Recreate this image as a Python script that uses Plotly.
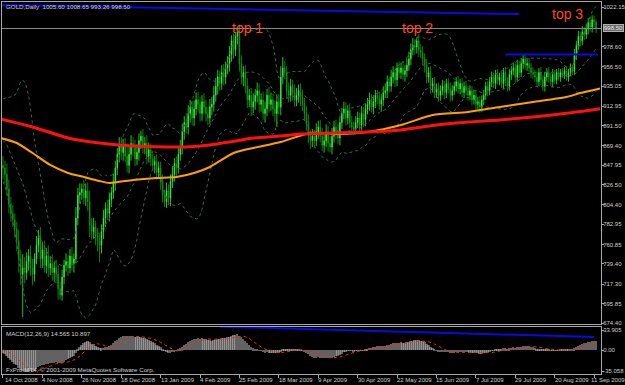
import pandas as pd
import plotly.graph_objects as go

# ---------------- data ----------------
date_labels = ["14 Oct 2008", "4 Nov 2008", "26 Nov 2008", "18 Dec 2008", "13 Jan 2009",
               "4 Feb 2009", "25 Feb 2009", "18 Mar 2009", "9 Apr 2009", "30 Apr 2009",
               "22 May 2009", "15 Jun 2009", "7 Jul 2009", "29 Jul 2009", "20 Aug 2009",
               "11 Sep 2009"]
date_label_bars = [0, 20, 40, 60, 80, 100, 120, 140, 160, 180, 200, 220, 240, 260, 280, 300]

price_ticks = [1022.15, 978.60, 956.50, 935.05, 912.95, 891.50, 869.40, 847.95, 826.50,
               804.40, 782.95, 760.85, 739.40, 717.30, 695.85, 674.40]
macd_ticks = [33.905, 0.0, -35.058]
macd_tick_text = ["33.905", "0.00", "-35.058"]

first_open = 848.0
closes = [
    845, 838, 822, 805, 795, 788, 778, 765, 745, 728,
    735, 730, 742, 748, 735, 728, 745, 760, 768, 745,
    755, 738, 748, 735, 740, 730, 735, 728, 712, 705,
    725, 738, 742, 735, 748, 740, 745, 790, 815, 818,
    822, 812, 820, 808, 782, 775, 780, 770, 765, 760,
    775, 790, 800, 795, 810, 818, 830, 845, 860, 870,
    862, 870, 858, 848, 860, 872, 868, 855, 862, 875,
    880, 868, 872, 858, 865, 855, 848, 852, 840, 845,
    830, 815, 808, 820, 812, 830, 838, 850, 845, 860,
    868, 885, 895, 890, 905, 912, 900, 910, 920, 915,
    905, 918, 912, 905, 900, 912, 915, 925, 935, 945,
    938, 950, 945, 955, 960, 970, 985, 975, 990, 995,
    960, 945, 950, 935, 920, 925, 912, 918, 925, 930,
    915, 920, 905, 910, 925, 915, 920, 910, 905, 918,
    912, 945, 955, 950, 930, 925, 935, 928, 920, 925,
    930, 922, 915, 905, 895, 880, 875, 880, 875, 885,
    890, 880, 870, 875, 885, 872, 868, 880, 890, 885,
    878, 895, 905, 910, 900, 908, 895, 890, 888, 895,
    900, 892, 905, 898, 910, 915, 920, 912, 918, 925,
    922, 915, 920, 928, 930, 940, 935, 945, 950, 942,
    955, 950, 955, 948, 952, 958, 965, 975, 980, 978,
    985, 975, 972, 965, 958, 945, 950, 935, 938, 928,
    932, 925, 930, 935, 928, 938, 932, 925, 930, 935,
    940, 932, 938, 928, 935, 930, 925, 930, 920, 925,
    915, 918, 912, 920, 925, 935, 930, 940, 945, 938,
    948, 942, 945, 938, 950, 940, 935, 948, 952, 955,
    945, 958, 950, 960, 965, 958, 960, 955, 950, 948,
    945, 940, 950, 942, 935, 945, 950, 945, 940, 948,
    942, 950, 945, 950, 948, 952, 945, 950, 955, 952,
    970, 980, 990, 985, 995, 992, 998, 1005, 1000, 1008,
    1005.6, 998.5]
up_wick = [
    10, 8, 12, 10, 8, 9, 7, 8, 12, 10,
    15, 12, 10, 8, 12, 10, 6, 10, 9, 12,
    8, 10, 9, 12, 8, 10, 7, 9, 10, 8,
    8, 6, 9, 7, 8, 10, 6, 12, 8, 10,
    6, 10, 8, 9, 12, 8, 10, 7, 9, 8,
    8, 9, 7, 10, 8, 6, 9, 8, 7, 9,
    9, 7, 8, 10, 8, 9, 7, 8, 9, 8,
    6, 8, 7, 9, 8, 7, 9, 6, 8, 7,
    7, 8, 6, 9, 7, 8, 9, 6, 8, 7,
    8, 9, 7, 10, 9, 8, 7, 9, 8, 9,
    8, 7, 9, 8, 7, 9, 8, 10, 9, 8,
    7, 8, 9, 7, 8, 9, 6, 8, 4, 1,
    8, 9, 7, 8, 9, 7, 8, 9, 7, 9,
    8, 7, 9, 8, 7, 9, 8, 7, 9, 8,
    8, 12, 12, 8, 7, 9, 8, 7, 9, 8,
    7, 8, 9, 7, 8, 9, 7, 8, 7, 9,
    7, 8, 9, 7, 8, 6, 8, 9, 7, 8,
    8, 7, 6, 8, 7, 6, 8, 7, 6, 7,
    7, 6, 8, 7, 6, 7, 8, 6, 7, 6,
    6, 7, 6, 7, 8, 7, 6, 8, 7, 6,
    6, 7, 6, 7, 6, 7, 8, 7, 8, 7,
    4, 7, 6, 7, 6, 7, 6, 7, 6, 7,
    6, 7, 6, 7, 6, 5, 6, 7, 6, 5,
    5, 6, 5, 6, 5, 6, 5, 6, 5, 6,
    6, 5, 6, 5, 6, 5, 6, 5, 6, 5,
    5, 6, 5, 6, 5, 6, 5, 6, 5, 6,
    5, 6, 5, 6, 5, 6, 5, 6, 5, 6,
    5, 6, 5, 6, 5, 6, 5, 6, 5, 6,
    5, 4, 5, 4, 5, 4, 5, 4, 5, 4,
    6, 5, 6, 5, 6, 5, 6, 5, 6, 5,
    5, 3.05]
down_wick = [
    12, 10, 8, 10, 9, 8, 10, 12, 15, 12,
    47, 12, 8, 10, 9, 12, 8, 6, 8, 10,
    10, 8, 9, 10, 8, 9, 10, 8, 12, 5,
    6, 8, 7, 9, 6, 8, 10, 5, 8, 9,
    8, 7, 9, 10, 13, 9, 8, 10, 12, 19,
    9, 8, 10, 7, 9, 8, 7, 10, 8, 9,
    8, 9, 7, 8, 9, 7, 10, 8, 7, 9,
    9, 7, 8, 9, 7, 8, 6, 9, 8, 7,
    9, 8, 6, 7, 8, 9, 7, 8, 9, 6,
    7, 8, 9, 7, 8, 10, 8, 9, 7, 8,
    9, 8, 7, 9, 8, 7, 9, 8, 7, 9,
    8, 7, 9, 8, 7, 9, 8, 10, 7, 9,
    9, 8, 10, 8, 9, 8, 10, 7, 9, 8,
    9, 8, 7, 10, 8, 9, 7, 8, 9, 15,
    8, 9, 8, 7, 9, 8, 7, 9, 8, 7,
    8, 9, 7, 8, 9, 8, 9, 7, 8, 6,
    8, 7, 6, 8, 7, 9, 6, 8, 7, 8,
    7, 8, 7, 6, 8, 7, 6, 8, 7, 6,
    6, 7, 6, 8, 7, 6, 7, 6, 8, 7,
    7, 6, 8, 7, 6, 8, 7, 6, 7, 8,
    7, 6, 7, 6, 8, 7, 6, 7, 6, 8,
    7, 8, 6, 7, 8, 7, 6, 8, 7, 6,
    6, 7, 6, 5, 7, 6, 5, 7, 6, 5,
    6, 5, 6, 5, 6, 5, 6, 5, 6, 5,
    6, 5, 6, 5, 6, 5, 6, 5, 6, 5,
    6, 5, 6, 5, 6, 5, 6, 5, 6, 5,
    6, 5, 6, 5, 6, 5, 6, 5, 6, 5,
    5, 6, 5, 6, 5, 6, 5, 6, 5, 6,
    4, 5, 4, 5, 4, 5, 4, 5, 4, 5,
    5, 6, 5, 6, 5, 6, 5, 6, 5, 6,
    6, 5.24]
# closes of the bars before the visible window (indicator warm-up only)
pre_closes = [872, 865, 880, 905, 898, 890, 886, 880, 884, 905, 896, 884, 888,
              868, 846, 834, 862, 874, 884, 890, 908, 918, 884, 862, 850, 846]

# moving averages (bar index, price)
ma_red_bars = [-1, 15, 33, 49, 66, 83, 93, 105, 115, 127, 141, 151, 168, 185, 202, 219, 236, 252, 269, 286, 303]
ma_red_vals = [898.9, 890.1, 878.0, 872.5, 869.2, 868.1, 868.1, 870.3, 873.6, 878.0, 880.2, 882.4,
               883.5, 884.6, 886.8, 892.0, 895.6, 897.8, 901.1, 905.2, 910.2]
ma_orange_bars = [-1, 7, 15, 24, 33, 41, 49, 54, 66, 78, 88, 97, 105, 117, 127, 141, 156, 171, 185,
                  202, 218, 236, 252, 269, 286, 293, 303]
ma_orange_vals = [877.9, 872.5, 861.5, 848.3, 839.5, 835.1, 830.7, 828.5, 831.8, 834.0, 835.1, 839.5,
                  846.1, 861.5, 867.0, 873.6, 883.5, 882.4, 884.6, 892.3, 903.3, 906.6, 912.1, 917.6,
                  923.1, 927.5, 932.5]

# trend lines drawn on the chart
trend_top_bars = [-1, 262]
trend_top_vals = [1024.4, 1014.4]
trend_res_bars = [255, 302]
trend_res_vals = [970.0, 970.0]
macd_trend_bars = [110, 300]
macd_trend_vals = [39.5, 22.2]

tops_text = ["top 1", "top 2", "top 3"]
tops_bar = [124, 210.5, 286.5]
tops_price = [999.5, 999.5, 1014.5]

# ---------------- derived series ----------------
n = len(closes)
idx = list(range(n))
opens = [first_open] + closes[:-1]
highs = [max(o, c) + u for o, c, u in zip(opens, closes, up_wick)]
lows = [min(o, c) - d for o, c, d in zip(opens, closes, down_wick)]

full = pd.Series([float(v) for v in pre_closes + closes])
mid = full.rolling(20).mean()
sd = full.rolling(20).std(ddof=0)
bb_mid = mid.iloc[-n:].tolist()
bb_up = (mid + 2 * sd).iloc[-n:].tolist()
bb_lo = (mid - 2 * sd).iloc[-n:].tolist()
ema12 = full.ewm(span=12, adjust=False).mean()
ema26 = full.ewm(span=26, adjust=False).mean()
macd_full = ema12 - ema26
sig_full = macd_full.rolling(9).mean()
macd = [float(v) for v in macd_full.iloc[-n:]]
signal = [float(v) for v in sig_full.iloc[-n:]]

W, H = 625, 385
y2_range = [-40.1, 38.95]

# ---------------- figure ----------------
FONT = "Liberation Sans, Arial, sans-serif"
FS = 6.0
GRAY = "#a8a8a8"
TXT = "#d0d0d0"
BAND = "#2d7050"

fig = go.Figure()

for band in (bb_up, bb_mid, bb_lo):
    fig.add_trace(go.Scatter(x=idx, y=band, mode="lines", line=dict(color=BAND, width=1, dash="dot"),
                             xaxis="x", yaxis="y", hoverinfo="skip"))

fig.add_trace(go.Candlestick(
    x=idx, open=opens, high=highs, low=lows, close=closes, xaxis="x", yaxis="y",
    increasing=dict(line=dict(color="#30f030", width=0.8), fillcolor="#b8ffb8"),
    decreasing=dict(line=dict(color="#12a012", width=0.8), fillcolor="#0a7a0a"),
    whiskerwidth=0))

fig.add_trace(go.Scatter(x=ma_orange_bars, y=ma_orange_vals, mode="lines",
                         line=dict(color="#ffa000", width=2, shape="spline", smoothing=0.6),
                         xaxis="x", yaxis="y"))
fig.add_trace(go.Scatter(x=ma_red_bars, y=ma_red_vals, mode="lines",
                         line=dict(color="#ff1010", width=3, shape="spline", smoothing=0.6),
                         xaxis="x", yaxis="y"))
fig.add_trace(go.Scatter(x=trend_top_bars, y=trend_top_vals, mode="lines",
                         line=dict(color="#0a0ae6", width=2), xaxis="x", yaxis="y"))
fig.add_trace(go.Scatter(x=trend_res_bars, y=trend_res_vals, mode="lines",
                         line=dict(color="#0a0ae6", width=2), xaxis="x", yaxis="y"))

# MACD panel: histogram drawn as striped bars (1px stripes like the terminal)
fig.add_trace(go.Bar(x=idx, y=macd, width=1.0, xaxis="x2", yaxis="y2",
                     marker=dict(color="#c4c4c4", line=dict(width=0),
                                 pattern=dict(shape="|", size=2, solidity=0.5, fgcolor="#c4c4c4",
                                              bgcolor="rgba(0,0,0,0)", fillmode="replace"))))
fig.add_trace(go.Scatter(x=idx, y=signal, mode="lines", line=dict(color="#ff2a10", width=1, dash="dot"),
                         xaxis="x2", yaxis="y2"))
fig.add_trace(go.Scatter(x=macd_trend_bars, y=macd_trend_vals, mode="lines",
                         line=dict(color="#0a0ae6", width=2), xaxis="x2", yaxis="y2"))

xr = [-0.5, n + 1.5]
x_dom = [2 / W, 601 / W]
axis_common = dict(showgrid=False, zeroline=False, showline=True, linecolor=GRAY, linewidth=1,
                   mirror=True)

fig.update_layout(
    width=W, height=H, margin=dict(l=0, r=0, t=0, b=0, autoexpand=False),
    paper_bgcolor="black", plot_bgcolor="black", showlegend=False, boxgap=0.55, bargap=0,
    xaxis=dict(domain=x_dom, range=xr, anchor="y", showticklabels=False, ticks="",
               rangeslider=dict(visible=False), **axis_common),
    xaxis2=dict(domain=x_dom, range=xr, anchor="y2", matches="x", showticklabels=False,
                ticks="outside", ticklen=3, tickcolor=GRAY, tickvals=date_label_bars,
                rangeslider=dict(visible=False), **axis_common),
    yaxis=dict(domain=[1 - 324 / H, 1 - 2 / H], range=[673.3, 1027.65], side="right",
               tickvals=price_ticks, ticktext=[f"{v:.2f}" for v in price_ticks],
               ticks="outside", ticklen=2, tickcolor=GRAY, automargin=False, ticklabelstandoff=-2,
               tickfont=dict(family=FONT, size=FS, color=TXT), **axis_common),
    yaxis2=dict(domain=[1 - 374 / H, 1 - 327 / H], range=y2_range, side="right",
                tickvals=macd_ticks, ticktext=macd_tick_text,
                ticks="outside", ticklen=2, tickcolor=GRAY, automargin=False, ticklabelstandoff=-2,
                tickfont=dict(family=FONT, size=FS, color=TXT), **axis_common),
)

# current bid line
fig.add_shape(type="line", xref="x domain", yref="y", x0=0, x1=1, y0=closes[-1], y1=closes[-1],
              line=dict(color="#8a8a8a", width=1))

ann = []
ann.append(dict(xref="paper", yref="y", x=1 - 22 / W, y=closes[-1], xanchor="left", yanchor="middle",
                text=f"{closes[-1]:.2f}", showarrow=False, bgcolor="#6a6a6a", bordercolor="#b0b0b0",
                borderwidth=1, borderpad=0, font=dict(family=FONT, size=FS, color="#e8e8e8")))
hdr = f"GOLD,Daily  {opens[-1]:.2f} {highs[-1]:.2f} {lows[-1]:.2f} {closes[-1]:.2f}"
ann.append(dict(xref="paper", yref="paper", x=4 / W, y=1 - 6 / H, xanchor="left", yanchor="middle",
                text=hdr, showarrow=False, font=dict(family=FONT, size=6.2, color=TXT)))
ann.append(dict(xref="paper", yref="paper", x=4 / W, y=1 - 333 / H, xanchor="left", yanchor="middle",
                text="MACD(12,26,9) 14.565 10.897", showarrow=False, font=dict(family=FONT, size=6.2, color=TXT)))
ann.append(dict(xref="paper", yref="paper", x=4 / W, y=1 - 369 / H, xanchor="left", yanchor="middle",
                text="FxPro MT4, © 2001-2009 MetaQuotes Software Corp.", showarrow=False,
                font=dict(family=FONT, size=6.2, color=TXT)))
for t, b, p in zip(tops_text, tops_bar, tops_price):
    ann.append(dict(xref="x", yref="y", x=b, y=p, xanchor="center", yanchor="middle", text=t,
                    showarrow=False, font=dict(family="Liberation Sans, Arial, sans-serif", size=14,
                                               color="#ff4a10")))
for k, (b, t) in enumerate(zip(date_label_bars, date_labels)):
    shift = 0 if k == 0 else (-5 if k == len(date_labels) - 1 else -2)
    ann.append(dict(xref="x2", yref="paper", x=b, y=1 - 380 / H, xanchor="left", yanchor="middle",
                    text=t, showarrow=False, xshift=shift,
                    font=dict(family=FONT, size=FS, color=TXT)))
fig.update_layout(annotations=ann)

fig.write_html("out.html")
